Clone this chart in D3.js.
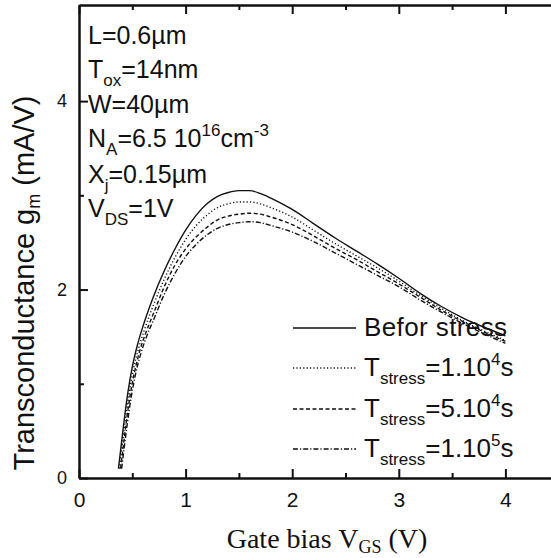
<!DOCTYPE html>
<html>
<head>
<meta charset="utf-8">
<script src="https://cdn.jsdelivr.net/npm/d3@7"></script>
<style>
  body { margin: 0; background: #fff; }
  svg { display: block; }
  text { font-family: "Liberation Sans", Arial, sans-serif; fill: #111; }
</style>
</head>
<body>
<script>
// data (gm in mA/V vs VGS in V)
const vgsBefore = [0.37,0.42,0.46,0.50,0.55,0.60,0.70,0.80,0.90,1.00,1.10,1.20,1.30,1.40,1.50,1.60,1.70,1.80,2.00,2.20,2.40,2.60,2.80,3.00,3.20,3.40,3.60,3.80,4.00];
const gmBefore  = [0.10,0.58,0.92,1.18,1.42,1.61,1.93,2.20,2.43,2.63,2.79,2.91,2.99,3.03,3.05,3.05,3.02,2.97,2.85,2.70,2.55,2.41,2.27,2.12,1.96,1.82,1.70,1.60,1.51];

const vgs1e4 = [0.38,0.43,0.47,0.51,0.56,0.61,0.70,0.80,0.90,1.00,1.10,1.20,1.30,1.40,1.50,1.60,1.70,1.80,2.00,2.20,2.40,2.60,2.80,3.00,3.20,3.40,3.60,3.80,4.00];
const gm1e4  = [0.10,0.57,0.90,1.15,1.38,1.56,1.84,2.11,2.34,2.53,2.68,2.79,2.87,2.91,2.93,2.93,2.91,2.87,2.77,2.63,2.49,2.36,2.23,2.09,1.94,1.80,1.67,1.56,1.46];

const vgs5e4 = [0.39,0.44,0.48,0.52,0.57,0.62,0.70,0.80,0.90,1.00,1.10,1.20,1.30,1.40,1.50,1.60,1.70,1.80,2.00,2.20,2.40,2.60,2.80,3.00,3.20,3.40,3.60,3.80,4.00];
const gm5e4  = [0.10,0.56,0.88,1.12,1.35,1.52,1.75,2.03,2.26,2.43,2.56,2.66,2.74,2.78,2.80,2.81,2.80,2.77,2.69,2.57,2.44,2.32,2.19,2.06,1.92,1.78,1.66,1.55,1.45];

const vgs1e5 = [0.40,0.45,0.49,0.53,0.58,0.63,0.70,0.80,0.90,1.00,1.10,1.20,1.30,1.40,1.50,1.60,1.70,1.80,2.00,2.20,2.40,2.60,2.80,3.00,3.20,3.40,3.60,3.80,4.00];
const gm1e5  = [0.10,0.55,0.86,1.10,1.32,1.49,1.68,1.95,2.17,2.35,2.48,2.58,2.65,2.69,2.71,2.72,2.71,2.68,2.61,2.51,2.39,2.27,2.15,2.03,1.89,1.76,1.64,1.53,1.43];

const xTicks = [0, 1, 2, 3, 4];
const xMinor = [0.5, 1.5, 2.5, 3.5, 4.5];
const yTicks = [0, 2, 4];
const yMinor = [1, 3];

const seriesNames = ["Befor stress", "1.10", "5.10", "1.10"];
const seriesExp = [null, "4", "4", "5"];
const dashes = [null, "1.2,2.2", "4,2.5", "5,2,1.2,2"];

const W = 551, H = 558;
const svg = d3.select("body").append("svg").attr("width", W).attr("height", H);

const x = d3.scaleLinear().domain([0, 5]).range([79, 612]);
const y = d3.scaleLinear().domain([0, 5.02]).range([478, 5]);

// axes
function styleAxis(g) {
  g.selectAll("path.domain").attr("stroke", "#111").attr("stroke-width", 2);
  g.selectAll(".tick line").attr("stroke", "#111").attr("stroke-width", 2);
}
svg.append("g").attr("transform", `translate(0,${y(0)})`)
  .call(d3.axisBottom(x).tickValues(xTicks).tickSizeInner(-9).tickSizeOuter(0).tickPadding(14).tickFormat(d3.format("d")))
  .call(styleAxis)
  .call(g => g.selectAll("text").attr("font-size", 21).attr("font-family", "Liberation Sans"));
svg.append("g").attr("transform", `translate(0,${y(0)})`)
  .call(d3.axisBottom(x).tickValues(xMinor).tickSizeInner(-5).tickSizeOuter(0).tickFormat(""))
  .call(styleAxis);

svg.append("g").attr("transform", `translate(0,${y(5.02)})`)
  .call(d3.axisTop(x).tickValues(xTicks).tickSizeInner(-9).tickSizeOuter(0).tickFormat(""))
  .call(styleAxis);
svg.append("g").attr("transform", `translate(0,${y(5.02)})`)
  .call(d3.axisTop(x).tickValues(xMinor).tickSizeInner(-5).tickSizeOuter(0).tickFormat(""))
  .call(styleAxis);

svg.append("g").attr("transform", `translate(${x(0)},0)`)
  .call(d3.axisLeft(y).tickValues(yTicks).tickSizeInner(-9).tickSizeOuter(0).tickPadding(12).tickFormat(d3.format("d")))
  .call(styleAxis)
  .call(g => g.selectAll("text").attr("font-size", 18).attr("font-family", "Liberation Sans"));
svg.append("g").attr("transform", `translate(${x(0)},0)`)
  .call(d3.axisLeft(y).tickValues(yMinor).tickSizeInner(-5).tickSizeOuter(0).tickFormat(""))
  .call(styleAxis);

// curves
const line = d3.line().x(d => x(d[0])).y(d => y(d[1])).curve(d3.curveMonotoneX);
const series = [
  d3.zip(vgsBefore, gmBefore),
  d3.zip(vgs1e4, gm1e4),
  d3.zip(vgs5e4, gm5e4),
  d3.zip(vgs1e5, gm1e5)
];
svg.selectAll("path.curve").data(series).enter().append("path")
  .attr("class", "curve")
  .attr("d", line)
  .attr("fill", "none")
  .attr("stroke", "#111")
  .attr("stroke-width", 1.4)
  .attr("stroke-dasharray", (d, i) => dashes[i]);

// legend
const leg = svg.append("g");
const rowY = [328, 368, 409, 449];
seriesNames.forEach((name, i) => {
  leg.append("line").attr("x1", 293).attr("x2", 356).attr("y1", rowY[i]).attr("y2", rowY[i])
    .attr("stroke", "#111").attr("stroke-width", 1.4).attr("stroke-dasharray", dashes[i]);
  const t = leg.append("text").attr("x", 364).attr("y", rowY[i] + 8)
    .attr("font-size", 26);
  if (i === 0) {
    t.attr("letter-spacing", 0.4).text(name);
  } else {
    t.append("tspan").text("T");
    t.append("tspan").attr("font-size", 17).attr("dy", 8).text("stress");
    t.append("tspan").attr("dy", -8).text("=" + name);
    t.append("tspan").attr("font-size", 17).attr("dy", -11).text(seriesExp[i]);
    t.append("tspan").attr("dy", 11).text("s");
  }
});

// device parameters
const notes = svg.append("g");
function note(yy, parts) {
  const t = notes.append("text").attr("x", 88).attr("y", yy).attr("font-size", 25);
  let shift = 0;
  parts.forEach(p => {
    const target = p[1] === "sub" ? 8 : p[1] === "sup" ? -11 : 0;
    const s = t.append("tspan").attr("dy", target - shift).text(p[0]);
    if (p[1]) s.attr("font-size", 17);
    shift = target;
  });
}
note(44, [["L=0.6µm"]]);
note(78, [["T"], ["ox", "sub"], ["=14nm"]]);
note(113, [["W=40µm"]]);
note(147, [["N"], ["A", "sub"], ["=6.5 10"], ["16", "sup"], ["cm"], ["-3", "sup"]]);
note(183, [["X"], ["j", "sub"], ["=0.15µm"]]);
note(217, [["V"], ["DS", "sub"], ["=1V"]]);

// axis titles
const yt = svg.append("text")
  .attr("transform", "rotate(-90)")
  .attr("x", -283).attr("y", 34)
  .attr("text-anchor", "middle")
  .attr("font-size", 29);
yt.append("tspan").text("Transconductance g");
yt.append("tspan").attr("font-size", 18).attr("dy", 6).text("m");
yt.append("tspan").attr("dy", -6).text(" (mA/V)");

const xt = svg.append("text")
  .attr("x", 327).attr("y", 548)
  .attr("text-anchor", "middle")
  .attr("font-size", 28)
  .style("font-family", "'Liberation Serif', 'Times New Roman', serif");
xt.append("tspan").text("Gate bias V");
xt.append("tspan").attr("font-size", 18).attr("dy", 5).text("GS");
xt.append("tspan").attr("dy", -5).text(" (V)");
</script>
</body>
</html>
